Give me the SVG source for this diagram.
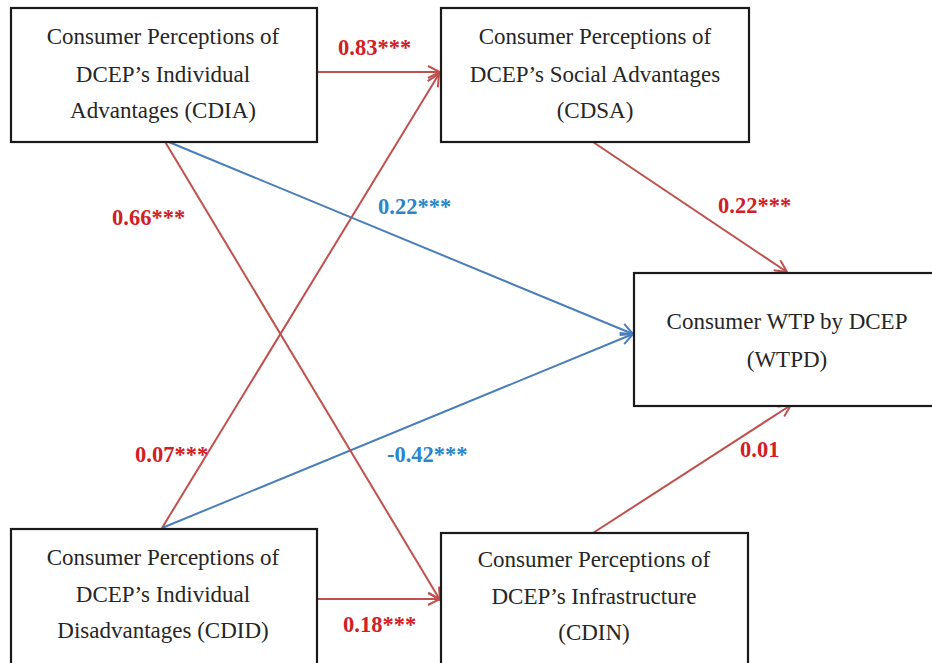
<svg xmlns="http://www.w3.org/2000/svg" width="932" height="663" viewBox="0 0 932 663">
<defs>
<style>
.box{fill:#fff;stroke:#1a1a1a;stroke-width:2.2}
.t{font-family:"Liberation Serif","Times New Roman",serif;font-size:23px;fill:#262626;text-anchor:middle}
.r{stroke:#c0504d;stroke-width:2;fill:none}
.b{stroke:#4a7ebb;stroke-width:2;fill:none}
.lr{font-family:"Liberation Serif","Times New Roman",serif;font-size:22.5px;font-weight:bold;fill:#d02026}
.lb{font-family:"Liberation Serif","Times New Roman",serif;font-size:22.5px;font-weight:bold;fill:#2a85c9}
</style>
<marker id="ar" viewBox="0 0 14 14" refX="13" refY="7" markerWidth="14" markerHeight="14" markerUnits="userSpaceOnUse" orient="auto"><path d="M1,1 L13,7 L1,13" fill="none" stroke="#c0504d" stroke-width="2"/></marker>
<marker id="ab" viewBox="0 0 14 14" refX="13" refY="7" markerWidth="14" markerHeight="14" markerUnits="userSpaceOnUse" orient="auto"><path d="M1,1 L13,7 L1,13" fill="none" stroke="#4a7ebb" stroke-width="2"/></marker>
</defs>
<rect width="932" height="663" fill="#fff"/>
<g id="connectors">
<line class="r" x1="317" y1="72" x2="440" y2="72" marker-end="url(#ar)"/>
<line class="r" x1="162" y1="528" x2="439" y2="74" marker-end="url(#ar)"/>
<line class="b" x1="164" y1="140" x2="633" y2="334" marker-end="url(#ab)"/>
<line class="b" x1="162" y1="528" x2="633" y2="334" marker-end="url(#ab)"/>
<line class="r" x1="164" y1="140" x2="440" y2="600" marker-end="url(#ar)"/>
<line class="r" x1="317" y1="599" x2="440" y2="599" marker-end="url(#ar)"/>
<line class="r" x1="593" y1="142" x2="787" y2="272" marker-end="url(#ar)"/>
<line class="r" x1="593" y1="533" x2="791" y2="405" marker-end="url(#ar)"/>
<text class="lr" x="338" y="55">0.83***</text>
<text class="lr" x="112" y="225">0.66***</text>
<text class="lb" x="378" y="214">0.22***</text>
<text class="lr" x="718" y="213">0.22***</text>
<text class="lr" x="135" y="462">0.07***</text>
<text class="lb" x="387" y="462">-0.42***</text>
<text class="lr" x="343" y="632">0.18***</text>
<text class="lr" x="740" y="457">0.01</text>
</g>
<g id="CDIA">
<rect class="box" x="11" y="8" width="306" height="134"/>
<text class="t" x="163" y="44">Consumer Perceptions of</text>
<text class="t" x="163" y="82">DCEP’s Individual</text>
<text class="t" x="163" y="118">Advantages (CDIA)</text>
</g>
<g id="CDSA">
<rect class="box" x="441" y="8" width="308" height="134"/>
<text class="t" x="595" y="44">Consumer Perceptions of</text>
<text class="t" x="595" y="82">DCEP’s Social Advantages</text>
<text class="t" x="595" y="118">(CDSA)</text>
</g>
<g id="WTPD">
<rect class="box" x="634" y="273" width="306" height="133"/>
<text class="t" x="787" y="329">Consumer WTP by DCEP</text>
<text class="t" x="787" y="367">(WTPD)</text>
</g>
<g id="CDID">
<rect class="box" x="11" y="529" width="306" height="140"/>
<text class="t" x="163" y="565">Consumer Perceptions of</text>
<text class="t" x="163" y="602">DCEP’s Individual</text>
<text class="t" x="163" y="638">Disadvantages (CDID)</text>
</g>
<g id="CDIN">
<rect class="box" x="441" y="533" width="307" height="140"/>
<text class="t" x="594" y="567">Consumer Perceptions of</text>
<text class="t" x="594" y="604">DCEP’s Infrastructure</text>
<text class="t" x="594" y="640">(CDIN)</text>
</g>
</svg>
